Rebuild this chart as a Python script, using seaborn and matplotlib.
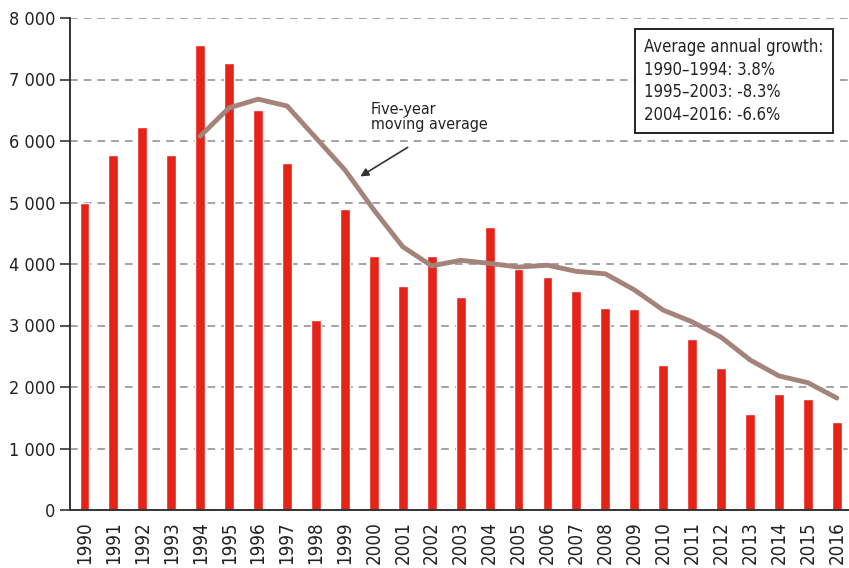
import numpy as np
import pandas as pd
import seaborn as sns
import matplotlib
matplotlib.use("Agg")
import matplotlib.pyplot as plt
from matplotlib.ticker import FuncFormatter, FixedLocator

years = list(range(1990, 2017))
counts = [5000, 5770, 6220, 5770, 7560, 7270, 6510, 5640, 3090, 4890,
          4130, 3640, 4130, 3460, 4600, 3920, 3790, 3560, 3290, 3270,
          2360, 2780, 2310, 1560, 1890, 1800, 1430]

ma_years = list(range(1994, 2017))
ma_values = [6080, 6540, 6680, 6570, 6050, 5530, 4880, 4280, 3970, 4060,
             4010, 3950, 3980, 3880, 3840, 3580, 3250, 3060, 2810, 2440,
             2180, 2070, 1820]

growth_text = ["Average annual growth:", "1990\u20131994: 3.8%",
               "1995\u20132003: -8.3%", "2004\u20132016: -6.6%"]

sns.set_theme(style="white")
plt.rcParams['font.family'] = ['DejaVu Sans']
plt.rcParams['font.stretch'] = 'condensed'

bars = pd.DataFrame({"year": years, "count": counts})
ma = pd.DataFrame({"year": ma_years, "avg": ma_values})

fig = plt.figure(figsize=(8.49, 5.68), dpi=100)
ax = fig.add_axes([70/849, 58/568, 779/849, 492/568])

sns.barplot(data=bars, x="year", y="count", native_scale=True, width=0.34,
            color="#e52318", saturation=1, ax=ax, zorder=2)
sns.lineplot(data=ma, x="year", y="avg", color="#a4847a", linewidth=3.5,
             ax=ax, zorder=3)

ax.set_xlim(1989.5, 2016.42)
ax.set_ylim(0, 8000)
ax.set_xlabel("")
ax.set_ylabel("")

ax.yaxis.set_major_locator(FixedLocator(range(0, 8001, 1000)))
ax.yaxis.set_major_formatter(FuncFormatter(lambda v, p: f"{int(v):,}".replace(",", " ")))
ax.grid(axis="y", linestyle=(0, (5, 4)), color="#8a8a8a", linewidth=1.1, zorder=0)
ax.set_axisbelow(True)

ax.set_xticks(years)
ax.set_xticklabels([str(y) for y in years], rotation=90)
ax.set_xticks([y - 0.5 for y in years], minor=True)
ax.tick_params(axis="x", which="major", length=0, pad=8, labelsize=13.5, colors="#222222")
ax.tick_params(axis="x", which="minor", length=6, width=1.2, color="#333333", direction="out")
ax.tick_params(axis="y", length=7, width=1.2, color="#333333", labelsize=13,
               labelcolor="#222222", left=True, direction="out")

for s in ["top", "right"]:
    ax.spines[s].set_visible(False)
for s in ["left", "bottom"]:
    ax.spines[s].set_color("#333333")
    ax.spines[s].set_linewidth(1.4)

ax.annotate("Five-year\nmoving average", xy=(1999.45, 5420), xytext=(1999.9, 6640),
            fontsize=11.5, color="#222222", va="top", ha="left", linespacing=1.05)
ax.annotate("", xy=(1999.45, 5400), xytext=(2001.25, 5920),
            arrowprops=dict(arrowstyle="-|>", color="#333333", lw=1.2, mutation_scale=12))

ax.text(2009.35, 7670, "\n".join(growth_text), fontsize=12, color="#222222",
        va="top", ha="left", linespacing=1.32,
        bbox=dict(boxstyle="square,pad=0.55", facecolor="white", edgecolor="#222222", linewidth=1.4))

fig.savefig("out.png", dpi=100)
